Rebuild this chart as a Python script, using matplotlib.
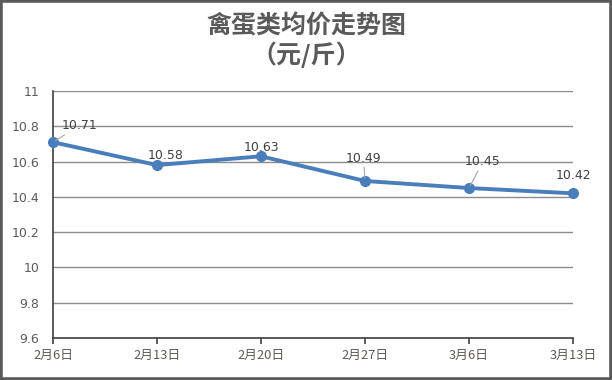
import matplotlib.pyplot as plt
from matplotlib.patches import Rectangle

plt.rcParams['font.family'] = ['Noto Sans CJK SC', 'DejaVu Sans']

# data
dates = ['2月6日', '2月13日', '2月20日', '2月27日', '3月6日', '3月13日']
prices = [10.71, 10.58, 10.63, 10.49, 10.45, 10.42]
yticks = [9.6, 9.8, 10, 10.2, 10.4, 10.6, 10.8, 11]
ytick_labels = ['9.6', '9.8', '10', '10.2', '10.4', '10.6', '10.8', '11']
# label offsets in points (dx, dy) and whether a leader line is drawn
label_off = [(19, 12), (6, 7), (0, 6), (-1, 16.5), (10, 19), (0, 13)]
leader = [True, False, False, True, True, False]

fig = plt.figure(figsize=(6.12, 3.8), dpi=100)
ax = fig.add_axes([53 / 612, 1 - 338 / 380, 520 / 612, 247 / 380])

xs = list(range(len(dates)))
ax.plot(xs, prices, color='#4A7EBB', lw=2.8, marker='o', ms=7, zorder=3, clip_on=False)

for x, y, (dx, dy), ld in zip(xs, prices, label_off, leader):
    ax.annotate(f'{y:.2f}', (x, y), xytext=(dx, dy), textcoords='offset points',
                ha='center', va='center', fontsize=9, color='#404040',
                family='DejaVu Sans',
                arrowprops=dict(arrowstyle='-', color='#A6A6A6', lw=0.8,
                                shrinkA=0, shrinkB=2) if ld else None)

ax.set_xlim(0, 5)
ax.set_ylim(9.6, 11)
ax.set_yticks(yticks)
ax.set_yticklabels(ytick_labels, family='DejaVu Sans')
ax.set_xticks(xs)
ax.set_xticklabels(dates)
ax.tick_params(axis='y', length=0, pad=10, labelsize=9, labelcolor='#5F5A55')
ax.tick_params(axis='x', length=4, width=1.2, color='#404040', pad=4,
               labelsize=9.3, labelcolor='#5F5A55')
ax.grid(axis='y', color='#8C8C8C', lw=1)
ax.set_axisbelow(True)
for s in ['top', 'right']:
    ax.spines[s].set_visible(False)
ax.spines['left'].set_color('#404040')
ax.spines['bottom'].set_color('#404040')
ax.spines['left'].set_linewidth(1.2)
ax.spines['bottom'].set_linewidth(1.2)

fig.text(0.5, 1 - 26 / 380, '禽蛋类均价走势图', ha='center', va='center',
         fontsize=18, fontweight='bold', color='#5A5A5A')
fig.text(0.5, 1 - 55 / 380, '（元/斤）', ha='center', va='center',
         fontsize=18, fontweight='bold', color='#5A5A5A')

fig.patches.append(Rectangle((0, 0), 1, 1, transform=fig.transFigure,
                             fill=False, ec='#595959', lw=4))

fig.savefig('out.png', dpi=100)
